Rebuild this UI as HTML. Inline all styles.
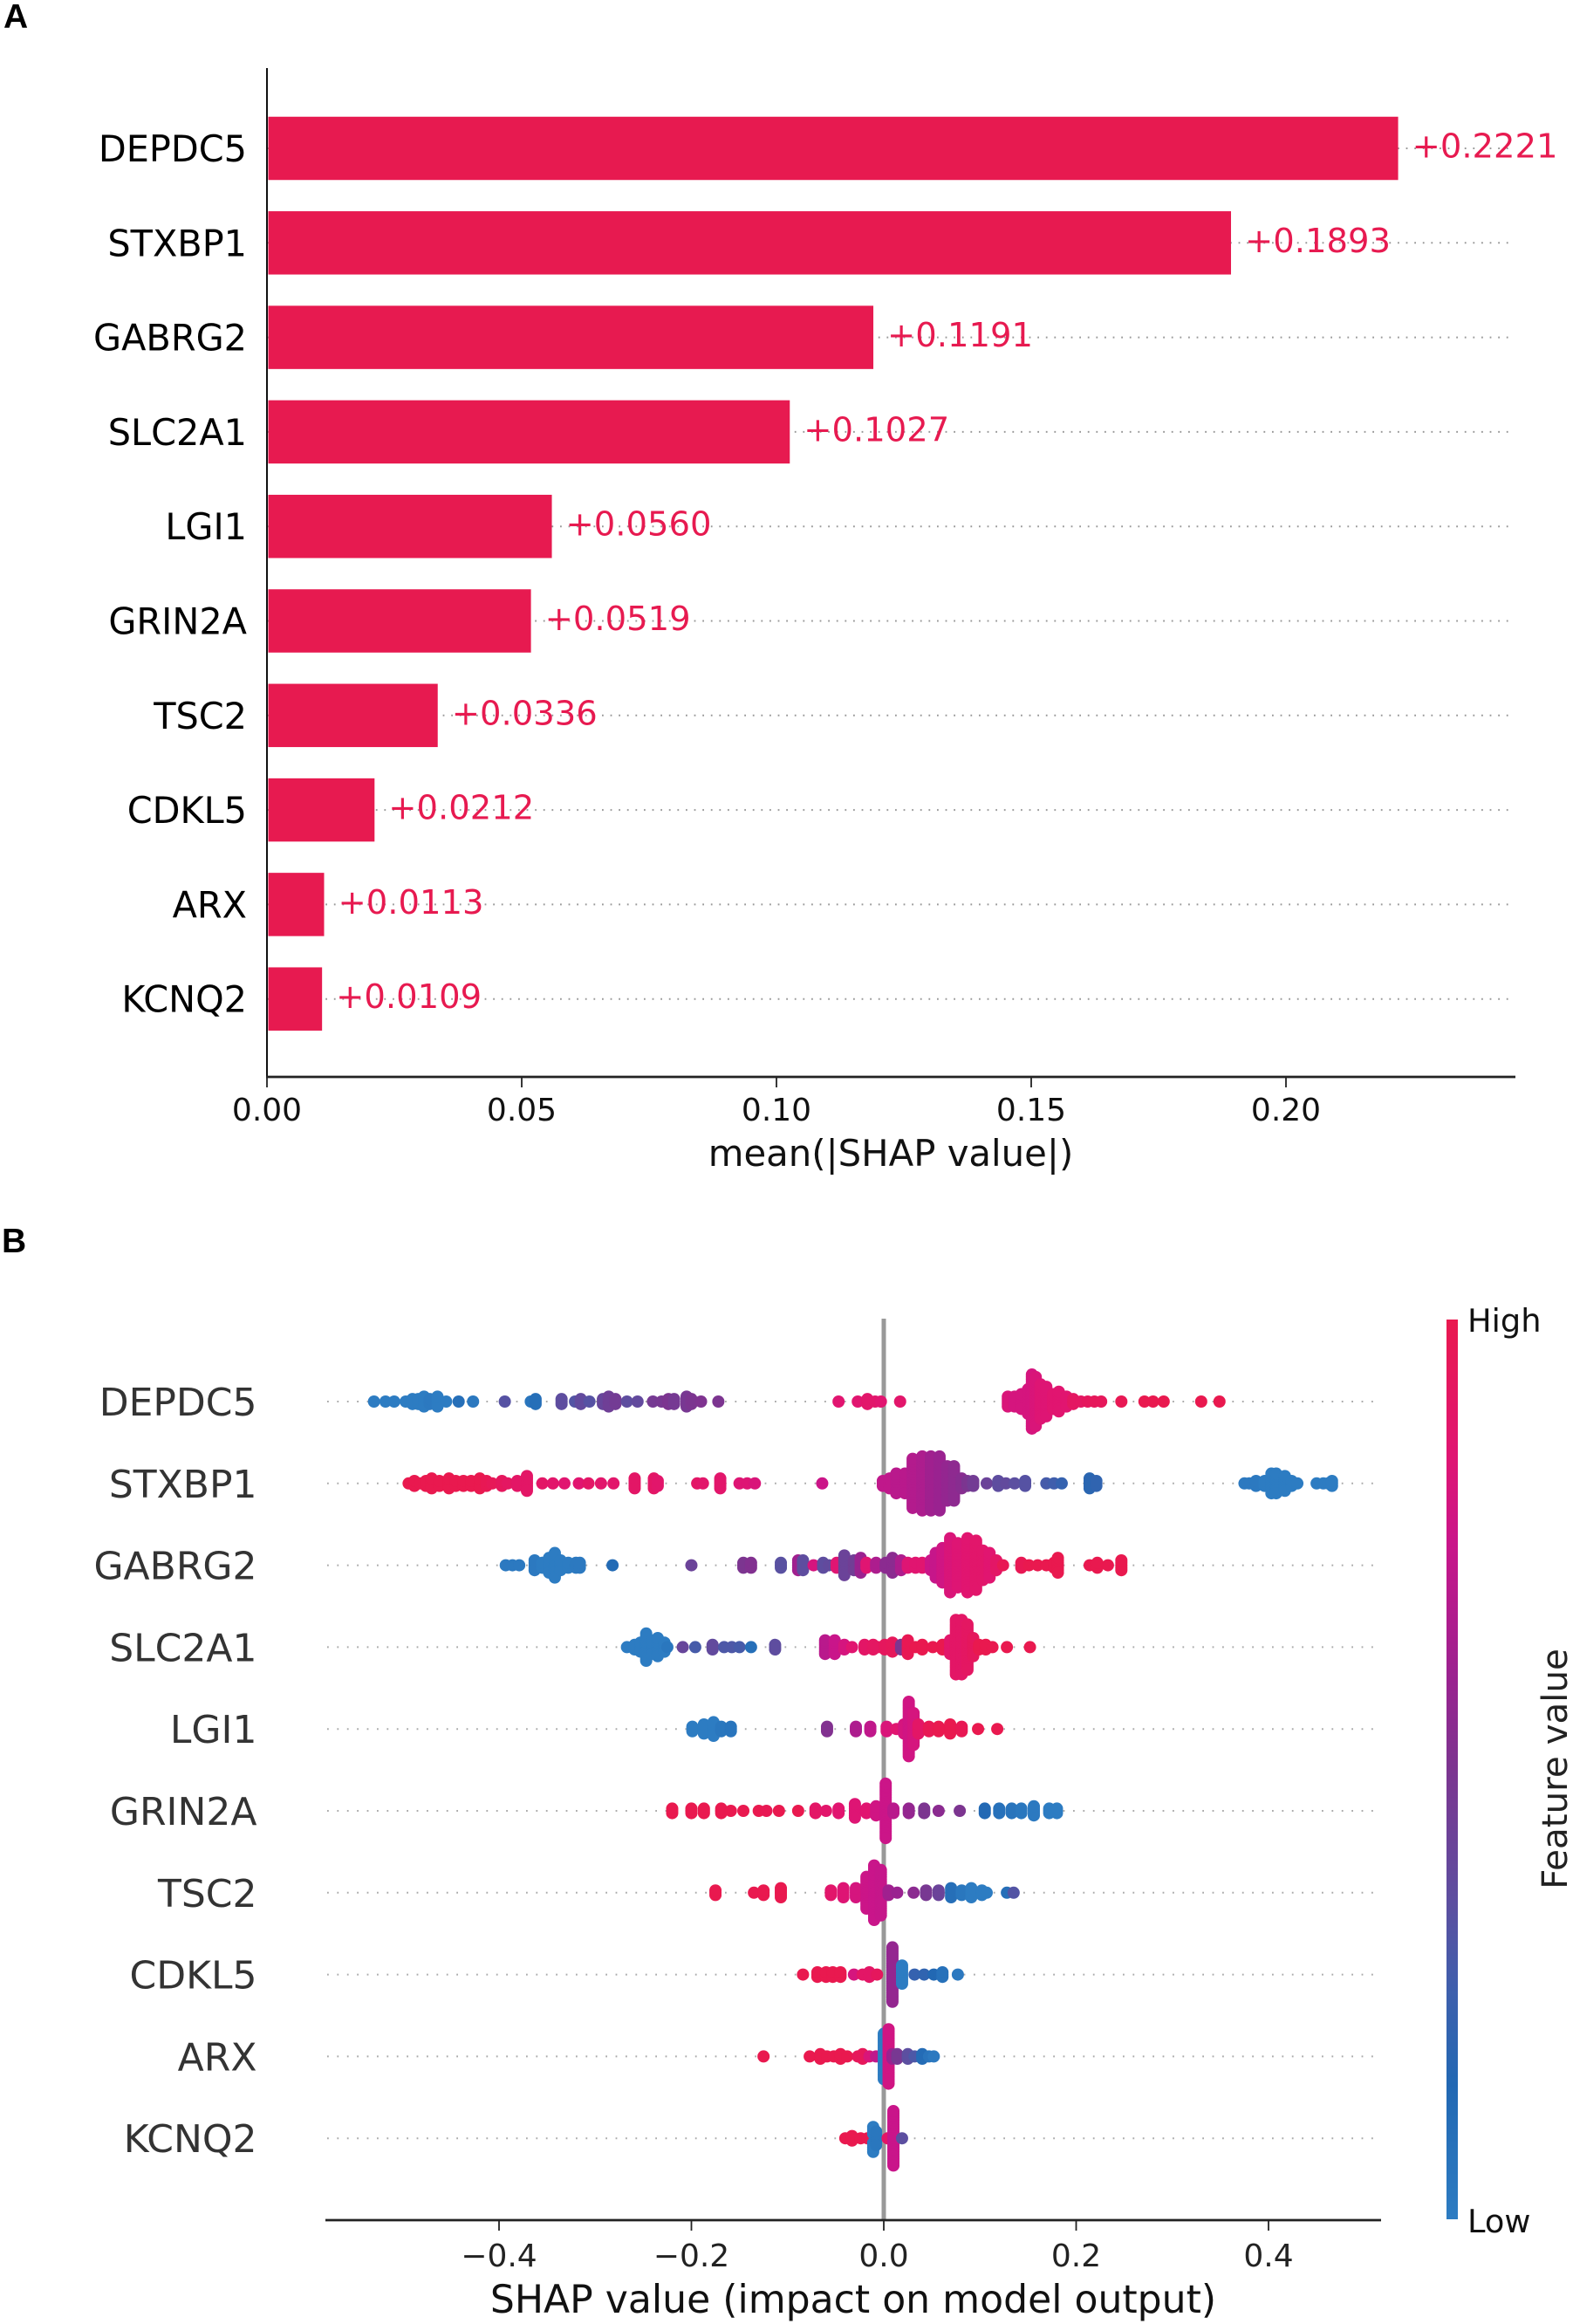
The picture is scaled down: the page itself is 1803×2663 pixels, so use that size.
<!DOCTYPE html>
<html lang="en">
<head>
<meta charset="utf-8">
<title>SHAP feature importance</title>
<style>
html,body{margin:0;padding:0;background:#fff;}
svg{display:block;font-family:"DejaVu Sans","Liberation Sans",sans-serif;}
</style>
</head>
<body>
<svg id="figure" xmlns="http://www.w3.org/2000/svg" width="1803" height="2663" viewBox="0 0 1803 2663">
  <defs>
    <linearGradient id="featureGradient" x1="0" y1="0" x2="0" y2="1">
      <stop offset="0" stop-color="#e9194f"/>
      <stop offset="0.15" stop-color="#e01572"/>
      <stop offset="0.25" stop-color="#c9158a"/>
      <stop offset="0.4" stop-color="#9a2290"/>
      <stop offset="0.5" stop-color="#7c3590"/>
      <stop offset="0.65" stop-color="#5c4fa0"/>
      <stop offset="0.75" stop-color="#3d60ad"/>
      <stop offset="0.85" stop-color="#2268b3"/>
      <stop offset="1" stop-color="#2d7cc2"/>
    </linearGradient>
  </defs>
  <text x="4" y="32" font-family="Liberation Sans, sans-serif" font-weight="700" font-size="39" fill="#000">A</text>
  <text x="2" y="1435" font-family="Liberation Sans, sans-serif" font-weight="700" font-size="39" fill="#000">B</text>
  <g id="panelA"></g>
  <g id="panelB"></g>
  <rect x="1658" y="1512" width="13" height="1031" fill="url(#featureGradient)"/>
  <text x="1682" y="1526" font-size="36.8" fill="#111">High</text>
  <text x="1682" y="2558" font-size="36.8" fill="#111">Low</text>
  <text transform="translate(1796 2027) rotate(-90)" text-anchor="middle" font-size="40.4" fill="#222">Feature value</text>
</svg>
<script>
/* Panel A data */
const genes = ['DEPDC5','STXBP1','GABRG2','SLC2A1','LGI1','GRIN2A','TSC2','CDKL5','ARX','KCNQ2'];
const meanShap = [0.2221,0.1893,0.1191,0.1027,0.0560,0.0519,0.0336,0.0212,0.0113,0.0109];
const barTicks = [0,0.05,0.10,0.15,0.20];
const barTickLabels = ['0.00','0.05','0.10','0.15','0.20'];

/* Panel B data: SHAP value, stacked sample count, feature value */
const depdc5Shap = [-.530,-.518,-.509,-.497,-.490,-.484,-.478,-.472,-.464,-.455,-.442,-.427,-.394,-.367,-.362,-.335,-.321,-.315,-.306,-.292,-.286,-.279,-.267,-.256,-.240,-.231,-.224,-.218,-.205,-.200,-.190,-.172,-.047,-.027,-.017,-.009,-.003,.017,.129,.136,.143,.150,.154,.158,.163,.169,.176,.182,.190,.197,.205,.212,.219,.226,.247,.271,.280,.291,.330,.349];
const depdc5Count = [1,1,1,1,3,3,5,3,5,1,1,1,1,1,3,3,1,3,1,3,5,3,1,1,1,1,3,3,5,3,1,1,1,1,3,1,1,1,5,5,7,11,23,21,15,13,7,9,5,3,1,1,1,1,1,1,1,1,1,1];
const depdc5Feature = [0,0,0,0,0,0,0,.02,0,0,.1,.03,.33,.05,.1,.36,.32,.38,.33,.4,.44,.46,.36,.38,.47,.48,.5,.47,.48,.5,.51,.5,.86,.86,.88,.88,.86,.88,.82,.8,.8,.8,.8,.82,.84,.84,.86,.86,.86,.92,.92,.94,.95,.95,.98,1,1,1,1,1];

const stxbp1Shap = [-.494,-.488,-.482,-.476,-.470,-.462,-.452,-.445,-.437,-.429,-.420,-.413,-.407,-.397,-.391,-.381,-.371,-.355,-.344,-.332,-.317,-.307,-.294,-.281,-.259,-.239,-.235,-.194,-.188,-.170,-.150,-.142,-.134,-.064,-.001,.006,.013,.022,.030,.040,.049,.058,.066,.073,.081,.087,.093,.107,.119,.127,.136,.147,.169,.177,.185,.214,.221,.375,.380,.387,.396,.403,.408,.417,.424,.430,.450,.457,.462,.466];
const stxbp1Count = [1,3,1,3,5,3,5,3,3,3,5,3,1,3,1,3,7,1,1,1,1,1,1,1,5,5,3,1,1,5,1,1,1,1,3,5,9,9,21,23,23,23,15,15,5,3,3,1,3,1,1,3,1,1,1,5,3,1,1,3,3,9,9,7,3,1,1,1,1,3];
const stxbp1Feature = [1,1,1,1,1,1,1,1,1,1,1,.98,.96,.94,.92,.9,.9,.9,.88,.86,.86,.9,.88,.88,.9,.9,.88,.9,.88,.88,.84,.84,.82,.76,.72,.72,.7,.7,.68,.66,.62,.6,.58,.56,.54,.5,.46,.42,.36,.38,.35,.33,.28,.26,.22,.18,.2,.02,.02,.02,0,0,0,0,0,0,0,0,0,0];

const gabrg2Shap = [-.393,-.386,-.379,-.363,-.355,-.348,-.342,-.336,-.328,-.320,-.316,-.282,-.200,-.146,-.138,-.107,-.089,-.084,-.073,-.063,-.057,-.049,-.041,-.031,-.024,-.018,-.008,.002,.009,.018,.025,.033,.040,.049,.054,.061,.069,.077,.087,.096,.103,.110,.117,.124,.143,.151,.160,.169,.177,.181,.214,.222,.233,.247];
const gabrg2Count = [1,1,1,5,3,7,11,5,3,3,3,1,1,3,3,3,5,5,1,3,1,3,9,5,7,3,3,3,7,5,3,3,3,5,11,15,23,19,23,21,13,11,5,1,3,1,1,1,3,7,1,3,1,5];
const gabrg2Feature = [.02,.02,.02,.02,0,0,0,0,0,.02,.02,.13,.42,.5,.52,.34,.62,.36,.8,.36,.38,.85,.42,.45,.6,.85,.66,.55,.55,.66,.84,.86,.86,.76,.74,.78,.82,.84,.86,.88,.88,.86,.9,.98,.98,1,1,1,1,1,1,1,1,1];

const slc2a1Shap = [-.267,-.259,-.253,-.247,-.241,-.235,-.228,-.225,-.209,-.196,-.178,-.166,-.158,-.150,-.138,-.113,-.061,-.051,-.041,-.033,-.020,-.011,-.006,.001,.009,.018,.025,.033,.040,.051,.061,.069,.075,.081,.087,.093,.099,.106,.113,.128,.152];
const slc2a1Count = [1,3,5,13,7,9,5,1,1,1,3,1,1,1,1,3,7,7,3,1,3,3,1,3,5,3,7,1,3,1,3,7,25,25,21,9,3,3,1,1,1];
const slc2a1Feature = [0,0,0,0,0,0,0,.04,.4,.28,.38,.3,.3,.28,.1,.36,.7,.75,.8,.86,.9,.92,.92,.94,.95,.5,.98,1,1,1,1,.88,.9,.9,.92,.94,1,1,1,1,1];

const lgi1Shap = [-.199,-.187,-.177,-.169,-.159,-.059,-.029,-.014,.003,.013,.021,.026,.031,.036,.047,.057,.069,.081,.098,.118];
const lgi1Count = [3,5,7,3,3,3,3,3,3,1,5,25,15,5,3,3,5,3,1,1];
const lgi1Feature = [0,0,0,.04,.05,.52,.66,.72,.82,.86,.8,.78,.8,.9,.98,1,1,.98,1,1];

const grin2aShap = [-.220,-.200,-.187,-.169,-.159,-.146,-.130,-.122,-.109,-.089,-.071,-.060,-.047,-.030,-.018,-.008,.002,.010,.026,.042,.057,.079,.105,.120,.133,.143,.156,.172,.180];
const grin2aCount = [3,3,3,3,1,1,1,1,1,1,3,1,3,7,3,5,25,3,3,3,1,1,3,3,3,3,5,3,3];
const grin2aFeature = [1,1,1,1,1,1,1,.98,1,1,.9,.88,.86,.84,.86,.78,.76,.7,.58,.5,.55,.5,.14,.08,.06,.04,.02,0,0];

const tsc2Shap = [-.175,-.135,-.125,-.107,-.055,-.042,-.029,-.018,-.010,-.003,.005,.014,.031,.044,.057,.070,.081,.091,.102,.107,.128,.135];
const tsc2Count = [3,1,3,5,3,5,5,15,25,21,3,1,1,3,3,5,3,5,3,1,1,1];
const tsc2Feature = [1,1,1,1,.88,.84,.8,.76,.75,.74,.62,.6,.55,.48,.42,.1,.04,0,0,0,.1,.32];

const cdkl5Shap = [-.084,-.069,-.060,-.053,-.045,-.031,-.022,-.015,-.007,.009,.019,.032,.042,.052,.061,.077];
const cdkl5Count = [1,3,3,3,3,1,1,3,1,25,9,1,1,1,3,1];
const cdkl5Feature = [1,1,1,1,1,.8,.9,.9,.94,.58,0,.22,.2,.15,.08,.02];

const arxShap = [-.125,-.077,-.066,-.059,-.052,-.045,-.038,-.027,-.022,-.015,-.008,.000,.005,.009,.014,.025,.032,.040,.047,.052];
const arxCount = [1,1,3,1,1,3,1,1,3,1,1,21,25,3,3,3,1,3,1,1];
const arxFeature = [1,1,1,1,1,1,1,.95,.95,.82,.72,0,.78,.6,.48,.35,.3,.12,.06,.02];

const kcnq2Shap = [-.040,-.033,-.024,-.017,-.011,-.011,-.008,.004,.010,.019];
const kcnq2Count = [1,3,1,1,3,9,7,1,25,1];
const kcnq2Feature = [1,1,1,1,1,0,.04,.9,.75,.35];

const swarmShap = [depdc5Shap,stxbp1Shap,gabrg2Shap,slc2a1Shap,lgi1Shap,grin2aShap,tsc2Shap,cdkl5Shap,arxShap,kcnq2Shap];
const swarmCount = [depdc5Count,stxbp1Count,gabrg2Count,slc2a1Count,lgi1Count,grin2aCount,tsc2Count,cdkl5Count,arxCount,kcnq2Count];
const swarmFeature = [depdc5Feature,stxbp1Feature,gabrg2Feature,slc2a1Feature,lgi1Feature,grin2aFeature,tsc2Feature,cdkl5Feature,arxFeature,kcnq2Feature];
const swarmTicks = [-0.4,-0.2,0,0.2,0.4];
const swarmTickLabels = ['\u22120.4','\u22120.2','0.0','0.2','0.4'];

const SVGNS = 'http://www.w3.org/2000/svg';
const panelA = document.getElementById('panelA');
const panelB = document.getElementById('panelB');

function xBar(v){ return 305.5 + v * 5840; }
function yBar(i){ return 170 + i * 108.3; }
function xSwarm(v){ return 1013 + v * 1102.5; }
function ySwarm(i){ return 1606 + i * 93.8; }

function make(parent, tag, attrs, text){
  const el = document.createElementNS(SVGNS, tag);
  for (const k in attrs) el.setAttribute(k, attrs[k]);
  if (text !== undefined) el.textContent = text;
  parent.appendChild(el);
  return el;
}

const colorStops = [[0,[45,124,194]],[.15,[34,104,179]],[.25,[61,96,173]],[.35,[92,79,160]],[.5,[124,53,144]],[.6,[154,34,144]],[.75,[201,21,138]],[.85,[224,21,114]],[1,[233,25,79]]];
function featureColor(f){
  for (let i = 1; i < colorStops.length; i++){
    if (f <= colorStops[i][0]){
      const a = colorStops[i-1], b = colorStops[i];
      const t = (f - a[0]) / (b[0] - a[0]);
      const c = a[1].map((v, j) => Math.round(v + (b[1][j] - v) * t));
      return 'rgb(' + c.join(',') + ')';
    }
  }
  return 'rgb(233,25,79)';
}

/* Panel A */
genes.forEach((g, i) => {
  const y = yBar(i);
  const guide = make(panelA, 'line', {x1:306, x2:1732, y1:y, y2:y, stroke:'#999', 'stroke-width':2, 'stroke-dasharray':'1.8 7.8'});
  
  
  const bar = make(panelA, 'rect', {x:307.5, y:y-36.25, width:xBar(meanShap[i])-307.5, height:72.5, fill:'#e71a50'});
  
  
  const label = make(panelA, 'text', {x:283, y:y+15, 'text-anchor':'end', 'font-size':41.4, fill:'#000'}, g);
  
  
  const value = make(panelA, 'text', {x:xBar(meanShap[i])+16, y:y+10.5, 'font-size':38.5, fill:'#e71a50'}, '+' + meanShap[i].toFixed(4));
  
  
});
const aLeft = make(panelA, 'line', {x1:306, x2:306, y1:78, y2:1234, stroke:'#111', 'stroke-width':2});


const aBottom = make(panelA, 'line', {x1:305, x2:1737, y1:1234, y2:1234, stroke:'#222', 'stroke-width':2.8});


barTicks.forEach((t, i) => {
  const x = xBar(t) + 0.5;
  const tick = make(panelA, 'line', {x1:x, x2:x, y1:1234, y2:1246, stroke:'#222', 'stroke-width':1.8});
  
  
  const lab = make(panelA, 'text', {x:x, y:1284, 'text-anchor':'middle', 'font-size':36, fill:'#111'}, barTickLabels[i]);
  
  
});
const aTitle = make(panelA, 'text', {x:1021, y:1336, 'text-anchor':'middle', 'font-size':41.8, fill:'#111'}, 'mean(|SHAP value|)');



/* Panel B */
genes.forEach((g, i) => {
  const y = ySwarm(i);
  const guide = make(panelB, 'line', {x1:375, x2:1582, y1:y, y2:y, stroke:'#aaa', 'stroke-width':2, 'stroke-dasharray':'1.8 9.6'});
  
  
  const label = make(panelB, 'text', {x:294.5, y:y+16, 'text-anchor':'end', 'font-size':44, fill:'#333'}, g);
  
  
});
const zero = make(panelB, 'line', {x1:xSwarm(0), x2:xSwarm(0), y1:1511, y2:2544, stroke:'#999', 'stroke-width':5});



swarmShap.forEach((vals, row) => {
  const counts = swarmCount[row];
  const feats = swarmFeature[row];
  const totals = {};
  vals.forEach((v, k) => { totals[v] = (totals[v] || 0) + counts[k]; });
  let maxLayer = 0;
  Object.keys(totals).forEach(k => { maxLayer = Math.max(maxLayer, Math.ceil((totals[k] - 1) / 2)); });
  const step = 33.8 / (maxLayer + 1);
  const layers = {};
  vals.forEach((v, k) => {
    for (let n = 0; n < counts[k]; n++){
      const layer = layers[v] || 0;
      layers[v] = layer + 1;
      const off = Math.ceil(layer / 2) * ((layer % 2) * 2 - 1) * step;
      const dot = make(panelB, 'circle', {cx:xSwarm(v), cy:ySwarm(row) + off, r:7, fill:featureColor(feats[k])});
      
      
    }
  });
});

const bBottom = make(panelB, 'line', {x1:373, x2:1583, y1:2544, y2:2544, stroke:'#222', 'stroke-width':2.8});


swarmTicks.forEach((t, i) => {
  const x = xSwarm(t);
  const tick = make(panelB, 'line', {x1:x, x2:x, y1:2544, y2:2556, stroke:'#222', 'stroke-width':1.8});
  
  
  const lab = make(panelB, 'text', {x:x, y:2597, 'text-anchor':'middle', 'font-size':36, fill:'#222'}, swarmTickLabels[i]);
  
  
});
const bTitle = make(panelB, 'text', {x:978, y:2650, 'text-anchor':'middle', 'font-size':44.1, fill:'#111'}, 'SHAP value (impact on model output)');


</script>
</body>
</html>
